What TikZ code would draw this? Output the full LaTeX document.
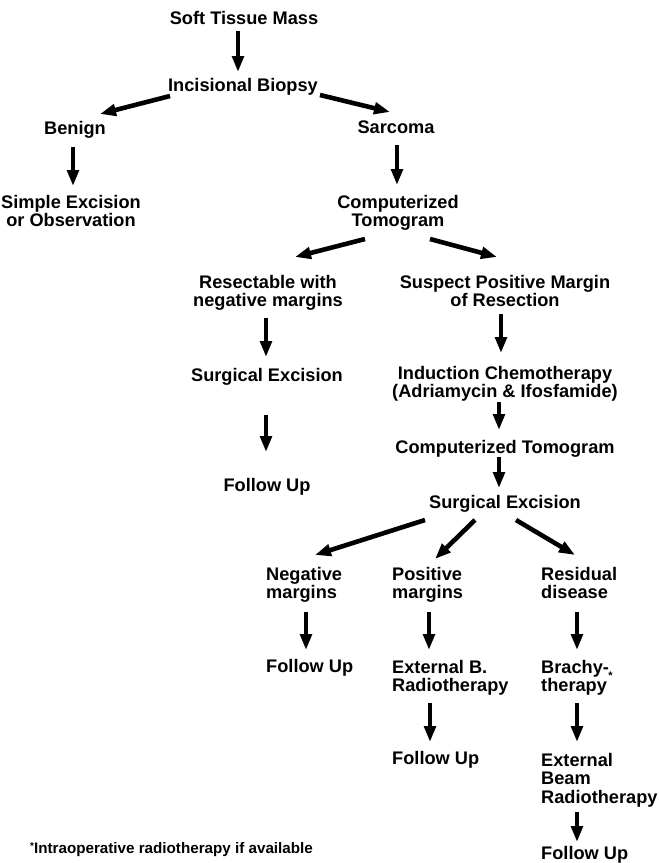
\documentclass[tikz,border=0pt]{standalone}
\usepackage{fontspec}
\setmainfont{Liberation Sans}
\usetikzlibrary{arrows.meta,calc}
\begin{document}
\begin{tikzpicture}[x=1pt,y=-1pt,
  lbl/.style={font=\fontsize{18.2}{18.4}\selectfont\bfseries, inner sep=0pt, align=center, anchor=north},
  lbll/.style={lbl, align=left, anchor=north west},
  arr/.style={line width=4.6pt, -{Triangle[length=16pt,width=11.5pt]}},
  notestyle/.style={font=\fontsize{15.2}{15.2}\selectfont\bfseries, inner sep=0pt, anchor=base west}]
\fill[white] (0,0) rectangle (659,863);
\useasboundingbox (0,0) rectangle (659,863);

% nodes
\node[lbl] (stm) at (244,11) {Soft Tissue Mass};
\node[lbl] (ib) at (243,78) {Incisional Biopsy};
\node[lbl] (ben) at (75,121) {Benign};
\node[lbl] (sar) at (396,121) {Sarcoma};
\node[lbl] (sim) at (71,195) {Simple Excision\\or Observation};
\node[lbl] (ct1) at (398,195) {Computerized\\Tomogram};
\node[lbl] (res) at (268,275) {Resectable with\\negative margins};
\node[lbl] (sus) at (505,275) {Suspect Positive Margin\\of Resection};
\node[lbl] (se1) at (267,368) {Surgical Excision};
\node[lbl] (ind) at (505,366) {Induction Chemotherapy\\(Adriamycin \& Ifosfamide)};
\node[lbl] (fu1) at (267,478) {Follow Up};
\node[lbl] (ct2) at (505,440) {Computerized Tomogram};
\node[lbl] (se2) at (505,495) {Surgical Excision};
\node[lbll] (neg) at (266,567) {Negative\\margins};
\node[lbll] (pos) at (392,567) {Positive\\margins};
\node[lbll] (resid) at (541,567) {Residual\\disease};
\node[lbll] (fu2) at (266,659) {Follow Up};
\node[lbll] (ebr) at (392,660) {External B.\\Radiotherapy};
\node[lbll] (bra) at (541,660) {Brachy-\\therapy\kern1.5pt\smash{\raisebox{12.5pt}{\fontsize{11}{11}\selectfont *}}};
\node[lbll] (fu3) at (392,751) {Follow Up};
\node[lbll] (ebr2) at (541,753) {External\\Beam\\Radiotherapy};
\node[lbll] (fu4) at (541,846) {Follow Up};
\node[notestyle] (note) at (30,853.5) {\smash{\raisebox{4pt}{\fontsize{10}{10}\selectfont *}}Intraoperative radiotherapy if available};

% arrows
\draw[arr] ($(stm.north)+(-6,20)$) -- ($(ib.north)+(-5,-6)$);
\draw[arr] ($(ib.north)+(-73,18)$) -- ($(ben.north)+(25,-7)$);
\draw[arr] ($(ib.north)+(77,17)$) -- ($(sar.north)+(-6,-9)$);
\draw[arr] ($(ben.north)+(-2,26)$) -- ($(sim.north)+(2,-9)$);
\draw[arr] ($(sar.north)+(1,24)$) -- ($(ct1.north)+(-1,-10)$);
\draw[arr] ($(ct1.north)+(-33,44)$) -- ($(res.north)+(27,-18)$);
\draw[arr] ($(ct1.north)+(32,44)$) -- ($(sus.north)+(-8,-18)$);
\draw[arr] ($(res.north)+(-2,43)$) -- ($(se1.north)+(-1,-11)$);
\draw[arr] ($(sus.north)+(-4,39)$) -- ($(ind.north)+(-4,-13)$);
\draw[arr] ($(se1.north)+(-1,47)$) -- ($(fu1.north)+(-1,-26)$);
\draw[arr] ($(ind.north)+(-6,36)$) -- ($(ct2.north)+(-6,-10)$);
\draw[arr] ($(ct2.north)+(-6,17)$) -- ($(se2.north)+(-6,-7)$);
\draw[arr] ($(se2.north)+(-80,25)$) -- ($(neg.north west)+(49,-12)$);
\draw[arr] ($(se2.north)+(-30,25)$) -- ($(pos.north west)+(43,-8)$);
\draw[arr] ($(se2.north)+(11,25)$) -- ($(resid.north west)+(34,-12)$);
\draw[arr] ($(neg.north west)+(40,45)$) -- ($(fu2.north west)+(40,-9)$);
\draw[arr] ($(pos.north west)+(37,45)$) -- ($(ebr.north west)+(37,-10)$);
\draw[arr] ($(resid.north west)+(36,45)$) -- ($(bra.north west)+(36,-10)$);
\draw[arr] ($(ebr.north west)+(38,43)$) -- ($(fu3.north west)+(38,-9)$);
\draw[arr] ($(bra.north west)+(36,43)$) -- ($(ebr2.north west)+(36,-11)$);
\draw[arr] ($(ebr2.north west)+(36,59)$) -- ($(fu4.north west)+(36,-4)$);
\end{tikzpicture}
\end{document}
